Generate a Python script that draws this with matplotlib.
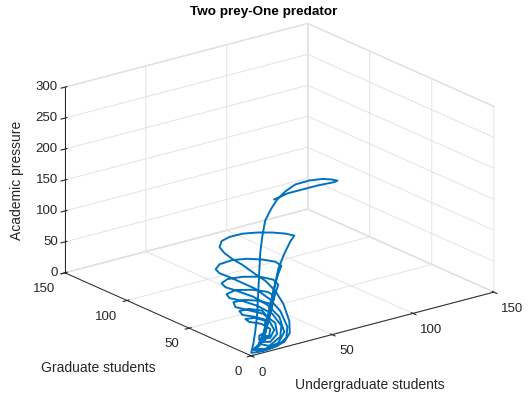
import matplotlib
matplotlib.use('Agg')
import matplotlib.pyplot as plt

# Trajectory of the two prey / one predator model
undergrad = [15.8, 23.9, 33.2, 42.5, 50.0, 53.1, 54.9, 51.2, 45.6, 37.5, 28.8,
             22.6, 17.6, 14.0, 10.2, 8.4, 7.1, 6.5, 6.5, 6.4, 6.4,
             6.3, 0.4, 5.0, 13.0, 21.2, 25.4, 25.1, 21.4, 16.4, 10.2,
             6.3, 5.9, 5.5, 5.2, 5.0, 5.1, 5.4, 5.9, 6.4, 14.6,
             22.6, 28.2, 25.7, 22.0, 18.3, 15.8, 13.3, 10.2, 6.5, 2.0,
             7.4, 16.1, 22.5, 23.9, 19.5, 12.7, 6.4, 5.9, 5.4, 5.0,
             4.9, 5.0, 5.5, 6.1, 8.4, 16.4, 20.2, 18.3, 15.2, 12.1,
             9.0, 6.5, 2.6, 8.7, 17.5, 22.0, 18.9, 11.5, 6.3, 5.7,
             5.2, 5.1, 5.3, 5.9, 6.5, 15.2, 18.3, 15.8, 12.7, 9.6,
             6.5, 12.7, 19.5, 20.2, 14.6, 6.4, 5.9, 5.4, 5.3, 5.6,
             6.3, 11.5, 15.8, 14.6, 11.5, 9.0, 7.8, 13.3, 17.6, 16.4,
             9.0, 6.1, 5.6, 5.5, 6.0, 6.5, 13.3, 12.7, 10.2, 8.4,
             13.3, 15.8, 12.7, 6.4, 5.9, 5.8, 6.1, 8.4, 11.5, 10.2,
             9.0, 12.7, 13.3, 7.8, 6.1, 6.0, 6.4, 10.2, 10.2, 9.0,
             10.9, 10.2, 8.4, 6.5, 6.5, 8.4, 10.2, 9.0, 7.8, 8.4]

graduate = [2, 2, 2, 2, 2, 2, 2, 2, 2, 2, 2,
            2, 2, 2, 2, 2, 2, 2, 2.75, 3.5, 5.0,
            6.5, 0.5, 0, 0, 1, 2, 2, 2, 2, 2,
            6.5, 14.75, 22.25, 28.25, 32, 30.5, 24.5, 14.75, 3.5, 2,
            2, 2, 2, 2, 2, 2, 2, 2, 2, 1,
            0, 0, 1, 2, 2, 2, 5, 14.75, 24.5, 32,
            35, 32, 22.25, 11, 2, 2, 2, 2, 2, 2,
            2, 2.75, 1, 0, 1, 2, 2, 2, 6.5, 18.5,
            27.5, 30.5, 26, 14.75, 2, 2, 2, 2, 2, 2,
            2, 2, 2, 2, 2, 3.5, 14.75, 24.5, 26.75, 20,
            7.25, 2, 2, 2, 2, 2, 2, 2, 2, 2,
            2, 11, 20, 21.5, 13.25, 2, 2, 2, 2, 2,
            2, 2, 2, 5, 14.75, 17, 9.5, 2, 2, 2,
            2, 2, 2, 2, 9.5, 12.5, 5, 2, 2, 2,
            2, 2, 2, 2, 2, 2, 2, 2, 2, 2]

pressure = [240.0, 244.2, 244.2, 244.2, 243.1, 242.6, 243.5, 248.0, 252.7, 255.8, 255.3,
            248.3, 238.7, 226.7, 209.9, 185.2, 158.5, 126.6, 93.5, 60.5, 31.4,
            9.1, 4.1, 3.0, 4.0, 7.1, 17.8, 37.4, 67.6, 92.1, 112.6,
            124.1, 129.8, 132.7, 137.1, 143.4, 154.6, 166.5, 180.1, 191.7, 187.4,
            180.2, 173.1, 165.2, 148.1, 126.4, 95.8, 57.1, 26.7, 9.9, 7.4,
            3.0, 5.1, 12.7, 28.7, 57.5, 81.7, 99.5, 100.6, 101.6, 101.3,
            105.2, 115.9, 131.1, 142.8, 148.0, 139.1, 130.0, 118.3, 93.0, 57.9,
            27.6, 10.9, 8.6, 5.3, 8.0, 21.7, 48.3, 72.8, 85.3, 84.3,
            82.7, 86.5, 97.1, 110.4, 121.7, 110.9, 100.5, 82.8, 52.5, 25.4,
            13.1, 5.5, 15.4, 32.7, 56.1, 73.4, 71.5, 67.6, 72.0, 84.6,
            95.9, 93.8, 84.4, 70.7, 46.8, 24.3, 15.4, 11.7, 21.6, 40.2,
            60.0, 60.1, 57.1, 63.7, 74.4, 82.8, 73.3, 57.4, 34.8, 19.9,
            18.2, 29.3, 46.0, 54.1, 48.8, 53.2, 63.2, 65.3, 53.3, 34.8,
            22.7, 21.7, 32.7, 44.6, 42.1, 44.2, 52.5, 47.8, 33.2, 24.3,
            23.0, 17.0, 15.1, 19.6, 26.1, 28.0, 21.9, 17.8, 20.3, 21.6]

xy_ticks = [0, 50, 100, 150]
z_ticks = [0, 50, 100, 150, 200, 250, 300]

TEXT = '#262626'
plt.rcParams['font.family'] = ['Liberation Sans', 'DejaVu Sans']
plt.rcParams['grid.color'] = '#e3e3e3'
plt.rcParams['grid.linewidth'] = 0.7

fig = plt.figure(figsize=(5.28, 3.98), dpi=100)
ax = fig.add_axes([0.019, 0.01, 1, 1], projection='3d', proj_type='ortho')
# MATLAB-like default view
ax.view_init(elev=20, azim=-127.5)
ax.set_box_aspect((1, 1, 0.646), zoom=1.16)

ax.plot(undergrad, graduate, pressure, color='#0072BD', lw=1.4)

ax.set_xlim(0, 150)
ax.set_ylim(0, 150)
ax.set_zlim(0, 300)
ax.set_xticks(xy_ticks)
ax.set_yticks(xy_ticks)
ax.set_zticks(z_ticks)
ax.tick_params(labelsize=9.5, colors=TEXT)
ax.tick_params(axis='x', pad=-2)
ax.tick_params(axis='y', pad=-2)
ax.tick_params(axis='z', pad=-5.5)
plt.setp(ax.get_xticklabels(), ha='left', va='top')
plt.setp(ax.get_yticklabels(), ha='right', va='top')
plt.setp(ax.get_zticklabels(), ha='right', va='center')

for axis in (ax.xaxis, ax.yaxis, ax.zaxis):
    axis.set_pane_color((1, 1, 1, 1))
    axis.pane.set_edgecolor('#dcdcdc')
    axis.line.set_color(TEXT)
    axis.line.set_linewidth(0.7)

fig.text(0.5, 0.970, 'Two prey-One predator', ha='center', va='center',
         fontsize=9.7, fontweight='bold', color='black')
fig.text(0.186, 0.075, 'Graduate students', ha='center', va='center',
         fontsize=10, color=TEXT)
fig.text(0.70, 0.033, 'Undergraduate students', ha='center', va='center',
         fontsize=10, color=TEXT)
fig.text(0.032, 0.548, 'Academic pressure', ha='center', va='center',
         rotation=90, fontsize=10, color=TEXT)

fig.savefig('out.png', dpi=100)
